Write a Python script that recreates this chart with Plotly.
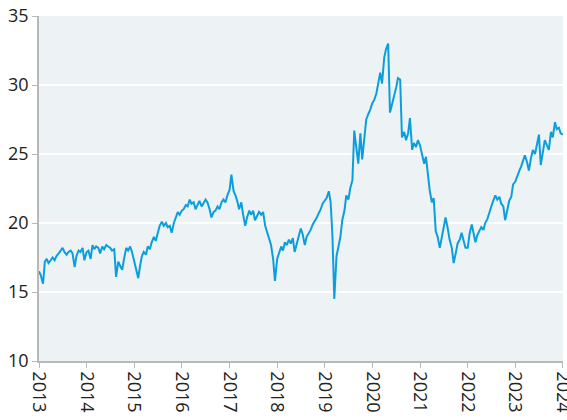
import pandas as pd
import plotly.graph_objects as go

# Semi-monthly observations, Jan 2013 .. Jan 2024
dates = pd.date_range("2013-01-01", "2024-01-01", freq="SMS")

v2013 = [16.5, 16.2, 15.6, 17.2, 17.4, 17.1, 17.3, 17.5, 17.3, 17.6, 17.8, 18.0,
         18.2, 17.9, 17.7, 17.9, 18.0, 17.8, 16.8, 17.6, 18.0, 17.9, 18.2, 17.3]
v2014 = [17.9, 18.0, 17.4, 18.4, 18.1, 18.3, 18.2, 17.8, 18.3, 18.1, 18.4, 18.3,
         18.2, 18.0, 18.1, 16.1, 17.2, 16.9, 16.6, 17.4, 18.2, 18.0, 18.3, 17.9]
v2015 = [17.2, 16.6, 16.0, 16.9, 17.6, 17.9, 17.7, 18.3, 18.1, 18.6, 19.0, 18.7,
         19.4, 19.8, 20.1, 19.8, 20.0, 19.7, 19.8, 19.3, 20.0, 20.4, 20.8, 20.6]
v2016 = [20.9, 21.0, 21.3, 21.2, 21.7, 21.4, 21.5, 21.0, 21.3, 21.6, 21.2, 21.4,
         21.7, 21.5, 21.0, 20.4, 20.8, 20.9, 21.2, 21.0, 21.5, 21.7, 21.5, 22.0]
v2017 = [22.4, 23.5, 22.3, 22.0, 21.6, 21.0, 21.5, 20.6, 19.8, 20.4, 20.9, 20.6,
         20.9, 20.2, 20.5, 20.8, 20.6, 20.8, 19.8, 19.3, 18.8, 18.4, 17.4, 15.8]
v2018 = [17.4, 17.9, 18.3, 18.0, 18.6, 18.4, 18.8, 18.5, 18.9, 17.9, 18.5, 19.0,
         19.6, 19.2, 18.4, 19.0, 19.3, 19.5, 19.9, 20.1, 20.4, 20.7, 21.0, 21.4]
v2019 = [21.6, 21.8, 22.3, 21.5, 19.0, 14.5, 17.6, 18.4, 19.0, 20.2, 20.9, 22.0,
         21.7, 22.5, 23.1, 26.7, 25.2, 24.3, 26.5, 24.6, 26.2, 27.5, 27.9, 28.2]
v2020 = [28.7, 28.9, 29.4, 30.2, 30.9, 30.1, 32.0, 32.6, 33.0, 28.0, 28.6, 29.1,
         29.8, 30.5, 30.4, 26.2, 26.6, 26.0, 26.5, 27.6, 25.3, 25.8, 25.5, 26.0]
v2021 = [25.6, 25.0, 24.3, 24.8, 23.6, 22.4, 21.5, 21.8, 19.4, 19.0, 18.2, 19.0,
         19.8, 20.4, 19.6, 18.8, 18.2, 17.1, 17.8, 18.5, 18.8, 19.3, 18.7, 18.2]
v2022 = [18.2, 19.2, 19.9, 19.2, 18.6, 19.1, 19.4, 19.7, 19.5, 20.0, 20.3, 20.8,
         21.2, 21.6, 22.0, 21.7, 21.9, 21.4, 21.2, 20.2, 20.9, 21.6, 21.9, 22.8]
v2023 = [23.0, 23.4, 23.8, 24.1, 24.5, 24.9, 24.4, 23.8, 24.7, 25.3, 25.0, 25.8,
         26.4, 24.2, 25.4, 26.0, 25.6, 25.3, 26.6, 26.2, 27.3, 26.8, 26.9, 26.5]
v2024 = [26.4]

values = v2013 + v2014 + v2015 + v2016 + v2017 + v2018 + v2019 + v2020 + v2021 + v2022 + v2023 + v2024

year_ticks = [str(y) for y in range(2013, 2025)]
y_ticks = [10, 15, 20, 25, 30, 35]

fig = go.Figure()
fig.add_trace(go.Scatter(
    x=dates, y=values, mode="lines",
    line=dict(color="#0a9fdc", width=2),
    hoverinfo="x+y", showlegend=False,
))

font = dict(family="Open Sans, Noto Sans, sans-serif", size=18, color="#222222")

fig.update_layout(
    width=567, height=420,
    margin=dict(l=39, r=4, t=16, b=59, autoexpand=False),
    paper_bgcolor="white",
    plot_bgcolor="#edf2f5",
    font=font,
    xaxis=dict(
        type="date",
        range=["2013-01-01", "2024-01-01 12:00"],
        tickvals=[f"{y}-01-01" for y in year_ticks],
        ticktext=year_ticks,
        tickangle=90,
        ticklabeloverflow="allow",
        ticks="outside", ticklen=5, tickcolor="#b8b8b8", tickwidth=1,
        showline=True, linecolor="#b8b8b8", linewidth=1.5,
        showgrid=False, zeroline=False,
        automargin=False,
        tickfont=font,
    ),
    yaxis=dict(
        range=[10, 35],
        tickvals=y_ticks,
        ticklabeloverflow="allow",
        ticks="outside", ticklen=5, tickcolor="#b8b8b8", tickwidth=1,
        showline=True, linecolor="#b8b8b8", linewidth=1.5,
        showgrid=True, gridcolor="white", gridwidth=1.5,
        zeroline=False,
        automargin=False,
        tickfont=font,
    ),
)

fig.write_html(
    "out.html",
    config={"displayModeBar": False},
    post_script="document.body.style.margin='0';document.body.style.overflow='hidden';",
)
